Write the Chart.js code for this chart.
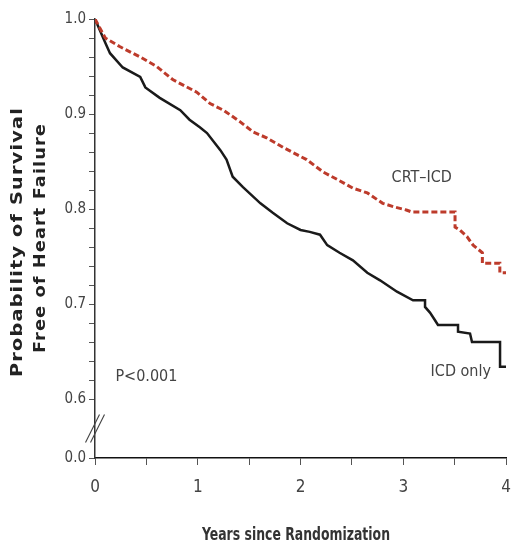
<!DOCTYPE html>
<html>
<head>
<meta charset="utf-8">
<script src="https://cdn.jsdelivr.net/npm/chart.js@4/dist/chart.umd.min.js"></script>
<style>
  html, body { margin: 0; padding: 0; background: #fff; }
  #wrap { width: 512px; height: 548px; }
</style>
</head>
<body>
<div id="wrap"><canvas id="km"></canvas></div>
<script>
// ICD only (solid black)
var icdTimes = [0, 0.1, 0.146, 0.27, 0.44, 0.49, 0.63, 0.83, 0.92, 1.02, 1.09, 1.22, 1.28, 1.34, 1.44, 1.61, 1.73, 1.87, 2.0, 2.09, 2.19, 2.26, 2.38, 2.51, 2.65, 2.774, 2.939, 3.095, 3.212, 3.212, 3.26, 3.309, 3.338, 3.533, 3.533, 3.65, 3.669, 3.942, 3.942, 4.0];
var icdSurv  = [1.0, 0.975, 0.964, 0.949, 0.939, 0.928, 0.917, 0.904, 0.894, 0.886, 0.880, 0.862, 0.852, 0.834, 0.823, 0.806, 0.796, 0.785, 0.778, 0.776, 0.773, 0.762, 0.754, 0.746, 0.733, 0.725, 0.713, 0.704, 0.704, 0.697, 0.691, 0.683, 0.678, 0.678, 0.671, 0.669, 0.660, 0.660, 0.634, 0.634];

// CRT-ICD (dashed red)
var crtTimes = [0, 0.1, 0.24, 0.44, 0.6, 0.76, 0.99, 1.12, 1.25, 1.41, 1.54, 1.67, 1.83, 1.97, 2.06, 2.22, 2.36, 2.51, 2.65, 2.80, 2.92, 3.03, 3.08, 3.504, 3.504, 3.55, 3.62, 3.68, 3.77, 3.77, 3.87, 3.94, 3.94, 4.0];
var crtSurv  = [1.0, 0.980, 0.971, 0.960, 0.950, 0.936, 0.923, 0.911, 0.904, 0.892, 0.881, 0.875, 0.865, 0.857, 0.852, 0.839, 0.831, 0.822, 0.817, 0.806, 0.802, 0.799, 0.797, 0.797, 0.781, 0.778, 0.771, 0.762, 0.754, 0.743, 0.743, 0.743, 0.733, 0.733];

var xTicks = [0, 0.5, 1, 1.5, 2, 2.5, 3, 3.5, 4];
var yTicks = [0.6, 0.62, 0.64, 0.66, 0.68, 0.7, 0.72, 0.74, 0.76, 0.78, 0.8, 0.82, 0.84, 0.86, 0.88, 0.9, 0.92, 0.94, 0.96, 0.98, 1.0];
var yZeroAt = 0.538;   // where the "0.0" tick sits below the axis break

var textLabels = [
    { text: 'CRT\u2013ICD', x: 3.18, y: 0.833 },
    { text: 'ICD only', x: 3.56, y: 0.629 },
    { text: 'P<0.001', x: 0.50, y: 0.623 }
];

function pts(xs, ys) {
    var out = [];
    for (var i = 0; i < xs.length; i++) out.push({ x: xs[i], y: ys[i] });
    return out;
}

var narrow = "'Liberation Sans Narrow', 'DejaVu Sans Condensed', sans-serif";

var decor = {
    id: 'decor',
    afterDraw: function (chart) {
        var ctx = chart.ctx;
        var xs = chart.scales.x, ys = chart.scales.y;
        ctx.save();

        // axis break slashes
        var bx = xs.left, by = (ys.getPixelForValue(0.6) + ys.getPixelForValue(yZeroAt)) / 2;
        ctx.strokeStyle = '#444';
        ctx.lineWidth = 1.1;
        [-2.5, 2.5].forEach(function (d) {
            ctx.beginPath();
            ctx.moveTo(bx - 7 + d, by + 14);
            ctx.lineTo(bx + 7 + d, by - 14);
            ctx.stroke();
        });

        // curve labels
        ctx.fillStyle = '#444';
        ctx.font = '16px ' + narrow;
        ctx.textAlign = 'center';
        ctx.textBaseline = 'middle';
        textLabels.forEach(function (l) {
            ctx.fillText(l.text, xs.getPixelForValue(l.x), ys.getPixelForValue(l.y));
        });

        // x title
        ctx.fillStyle = '#333';
        ctx.font = 'bold 18px ' + narrow;
        var xt = 'Years since Randomization';
        var w = ctx.measureText(xt).width;
        ctx.save();
        ctx.translate(296, 535);
        ctx.scale(188 / w, 1);
        ctx.fillText(xt, 0, 0);
        ctx.restore();

        // y title, two rotated lines
        ctx.fillStyle = '#222';
        ctx.font = "bold 16px 'DejaVu Sans', sans-serif";
        ctx.letterSpacing = '1px';
        [['Probability of Survival', 18, 242, 270], ['Free of Heart Failure', 41, 238, 230]].forEach(function (t) {
            var tw = ctx.measureText(t[0]).width;
            ctx.save();
            ctx.translate(t[1], t[2]);
            ctx.rotate(-Math.PI / 2);
            ctx.scale(t[3] / tw, 1);
            ctx.fillText(t[0], 0, 0);
            ctx.restore();
        });
        ctx.restore();
    }
};

new Chart(document.getElementById('km'), {
    type: 'line',
    data: {
        datasets: [{
            label: 'CRT-ICD',
            data: pts(crtTimes, crtSurv),
            borderColor: '#bd3b2b',
            borderWidth: 3,
            borderDash: [6, 3],
            pointRadius: 0,
            tension: 0,
            fill: false
        }, {
            label: 'ICD only',
            data: pts(icdTimes, icdSurv),
            borderColor: '#1a1a1a',
            borderWidth: 2.5,
            pointRadius: 0,
            tension: 0,
            fill: false
        }]
    },
    options: {
        responsive: true,
        maintainAspectRatio: false,
        animation: false,
        layout: { padding: { top: 19, right: 6, left: 0, bottom: 0 } },
        plugins: { legend: { display: false }, tooltip: { enabled: false } },
        scales: {
            x: {
                type: 'linear',
                min: 0,
                max: 4,
                afterBuildTicks: function (scale) {
                    scale.ticks = xTicks.map(function (v) { return { value: v }; });
                },
                afterFit: function (scale) {
                    scale.height = 90;
                    scale.paddingLeft = 0;
                    scale.paddingRight = 4;
                },
                border: { display: true, color: '#111', width: 1.5 },
                grid: { drawOnChartArea: false, drawTicks: true, tickLength: 7, color: '#555' },
                ticks: {
                    autoSkip: false,
                    padding: 12,
                    color: '#444',
                    font: { family: narrow, size: 17 },
                    maxRotation: 0,
                    callback: function (v) { return Number.isInteger(v) ? String(v) : ''; }
                }
            },
            y: {
                type: 'linear',
                min: yZeroAt,
                max: 1.0,
                afterBuildTicks: function (scale) {
                    scale.ticks = [{ value: yZeroAt }].concat(yTicks.map(function (v) { return { value: v }; }));
                },
                afterFit: function (scale) { scale.width = 95; },
                border: { display: true, color: '#333', width: 1.5 },
                grid: { drawOnChartArea: false, drawTicks: true, tickLength: 6, color: '#555' },
                ticks: {
                    autoSkip: false,
                    padding: 3,
                    color: '#444',
                    font: { family: narrow, size: 15 },
                    callback: function (v) {
                        if (v === yZeroAt) return '0.0';
                        return Math.abs(v * 10 - Math.round(v * 10)) < 1e-6 ? v.toFixed(1) : '';
                    }
                }
            }
        }
    },
    plugins: [decor]
});
</script>
</body>
</html>
